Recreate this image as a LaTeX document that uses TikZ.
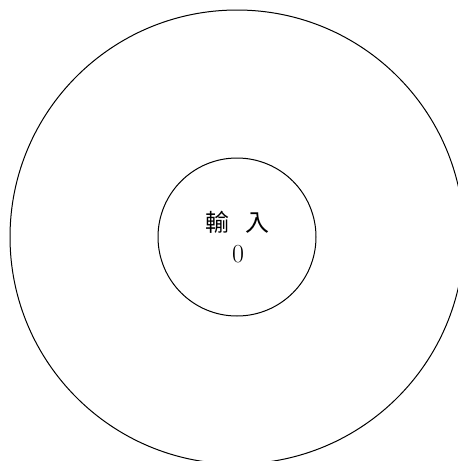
\documentclass[tikz,border=0pt]{standalone}
\usepackage{fontspec}
\newfontfamily\cjk{Noto Sans CJK TC}
\begin{document}
\begin{tikzpicture}[x=1pt,y=1pt,
  ring/.style={draw=black,line width=1pt,circle,inner sep=0pt}]
\useasboundingbox (0,0) rectangle (458,-461);
\clip (0,0) rectangle (458,-461);
\node[ring,minimum size=454pt] (outer) at (237,-237) {};
\node[ring,minimum size=158pt] (inner) at (237,-237) {};
\node[font=\fontsize{24}{24}\selectfont\cjk\addfontfeatures{FakeBold=0}] (lbl) at (237.5,-222) {輸\hspace{17pt}入};
\node[font=\fontsize{26}{26}\selectfont] (num) at (238,-254) {0};
\end{tikzpicture}
\end{document}
